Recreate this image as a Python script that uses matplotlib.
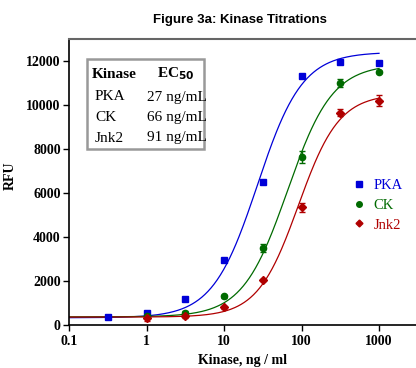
import numpy as np
import matplotlib
matplotlib.use("Agg")
import matplotlib.pyplot as plt
from matplotlib.patches import Rectangle
from matplotlib.lines import Line2D

# ---- data ----
pka_x = [0.316, 1, 3.16, 10, 31.6, 100, 316, 1000]
pka_y = [370, 560, 1200, 2950, 6500, 11300, 11950, 11900]
pka_err = [40, 60, 50, 60, 60, 60, 60, 80]

ck_x = [1, 3.16, 10, 31.6, 100, 316, 1000]
ck_y = [400, 560, 1300, 3500, 7650, 11000, 11500]
ck_err = [60, 60, 80, 200, 280, 200, 60]

jnk_x = [1, 3.16, 10, 31.6, 100, 316, 1000]
jnk_y = [300, 420, 800, 2050, 5350, 9650, 10200]
jnk_err = [130, 100, 80, 60, 200, 150, 230]

# 4-parameter logistic fit parameters: bottom, top, EC50, hill
pka_fit = (330, 12400, 27, 1.5)
ck_fit = (370, 11850, 66, 1.5)
jnk_fit = (360, 10500, 91, 1.65)

names = ["PKA", "CK", "Jnk2"]
ec50_labels = ["27 ng/mL", "66 ng/mL", "91 ng/mL"]
yticks = [0, 2000, 4000, 6000, 8000, 10000, 12000]
xticks = [0.1, 1, 10, 100, 1000]
xticklabels = ["0.1", "1", "10", "100", "1000"]

colors = ["#0000d8", "#006a00", "#b00000"]
markers = ["s", "o", "D"]

def fourpl(x, b, t, ec, h):
    return b + (t - b) / (1 + (ec / x) ** h)

serif = ["Liberation Serif", "DejaVu Serif"]
plt.rcParams["font.family"] = serif

fig = plt.figure(figsize=(4.16, 3.68), dpi=100)
ax = fig.add_axes([69/416, 43/368, 347/416, 286.5/368])

xs = np.logspace(-1, 3, 300)
series = [(pka_x, pka_y, pka_err, pka_fit), (ck_x, ck_y, ck_err, ck_fit), (jnk_x, jnk_y, jnk_err, jnk_fit)]
handles = []
for (x, y, e, fit), c, m, n in zip(series, colors, markers, names):
    ax.plot(xs, fourpl(xs, *fit), color=c, lw=0.9)
    ax.errorbar(x, y, yerr=e, fmt=m, color=c, ms=4.5 if m != "D" else 3.8,
                elinewidth=1.0, capsize=2.5, capthick=1.0, zorder=3)
    handles.append(Line2D([], [], marker=m, color=c, ls="none", ms=4 if m != "D" else 3.5))

ax.set_xscale("log")
ax.set_xlim(0.1, 3000)
ax.set_ylim(0, 13020)
ax.set_xticks(xticks)
ax.set_xticklabels(xticklabels)
ax.xaxis.set_minor_locator(matplotlib.ticker.NullLocator())
ax.set_yticks(yticks)
ax.set_yticklabels([str(v) for v in yticks])
for lab in ax.get_xticklabels() + ax.get_yticklabels():
    lab.set_fontweight("bold")
    lab.set_fontsize(10)
ax.tick_params(direction="out", length=4, width=1, pad=2)
ax.tick_params(axis="x", pad=3.5)
ax.spines["right"].set_visible(False)
ax.spines["top"].set_color("#666666")
ax.spines["top"].set_linewidth(1.5)
ax.spines["left"].set_linewidth(1.2)
ax.spines["bottom"].set_linewidth(1.2)

ax.set_xlabel("Kinase, ng / ml", fontsize=10, fontweight="bold", labelpad=4)
ax.set_ylabel("RFU", fontsize=10, fontweight="bold")
ax.yaxis.set_label_coords(-0.15, 0.52)

fig.text(240/416, 1 - 20/368, "Figure 3a: Kinase Titrations", ha="center", va="center",
         fontsize=9.5, fontweight="bold", family=["Liberation Sans Narrow", "Liberation Sans", "DejaVu Sans"])

leg = ax.legend(handles, names, loc="upper left", bbox_to_anchor=(0.8015, 0.5305),
                frameon=False, handlelength=0.8, handletextpad=0.62, labelspacing=0.45,
                prop={"family": serif, "size": 10.5}, borderaxespad=0)
for t, c in zip(leg.get_texts(), colors):
    t.set_color(c)

# EC50 table box
fig.patches.append(Rectangle((87/416, 1 - 149/368), 117/416, 90/368, transform=fig.transFigure,
                             fill=False, edgecolor="#999999", lw=1.8))
fig.text(92/416, 1 - 74/368, "Kinase", fontsize=11, fontweight="bold", va="center", ha="left")
fig.text(157/416, 1 - 74/368, r"EC$_{\mathbf{50}}$", fontsize=11, fontweight="bold", va="center", ha="left")
for i, (n, ec) in enumerate(zip(names, ec50_labels)):
    yy = 1 - (97 + i * 20.5) / 368
    fig.text(95/416, yy, n, fontsize=11, va="center", ha="left")
    fig.text(147/416, yy, ec, fontsize=11, va="center", ha="left")

fig.savefig("out.png", dpi=100)
